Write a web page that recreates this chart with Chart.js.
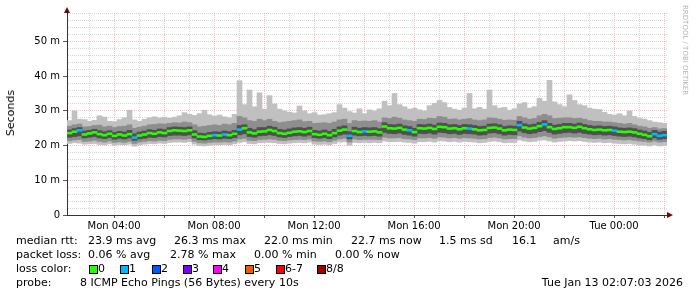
<!DOCTYPE html>
<html>
<head>
<meta charset="utf-8">
<script src="https://cdn.jsdelivr.net/npm/chart.js@4.4.0/dist/chart.umd.min.js"></script>
<style>
  html, body { margin: 0; padding: 0; background: #fff; }
  #wrap { position: relative; width: 697px; height: 297px; overflow: hidden;
          font-family: "DejaVu Sans", sans-serif; font-size: 11px; color: #000; }
  #wrap canvas { position: absolute; left: 0; top: 0; }
  .t { position: absolute; white-space: pre; line-height: 14px; }
  .box { position: absolute; width: 7px; height: 7px; border: 1px solid #000; }
  #ylabel { position: absolute; left: 4px; top: 90px; font-size: 11px; line-height: 14px;
            writing-mode: vertical-rl; transform: rotate(180deg); white-space: pre; }
  #mark { position: absolute; left: 681px; top: 5px; font-size: 7px; color: #b4b4b4;
          writing-mode: vertical-rl; white-space: pre; }
</style>
</head>
<body>
<div id="wrap">
  <canvas id="chart" width="697" height="297"></canvas>
  <div id="ylabel">Seconds</div>
  <div id="mark">RRDTOOL / TOBI OETIKER</div>

  <div class="t" style="left:16px;top:234px">median rtt:</div>
  <div class="t" style="left:88px;top:234px">23.9 ms avg</div>
  <div class="t" style="left:174px;top:234px">26.3 ms max</div>
  <div class="t" style="left:264px;top:234px">22.0 ms min</div>
  <div class="t" style="left:351px;top:234px">22.7 ms now</div>
  <div class="t" style="left:439px;top:234px">1.5 ms sd</div>
  <div class="t" style="left:512px;top:234px">16.1</div>
  <div class="t" style="left:553px;top:234px">am/s</div>

  <div class="t" style="left:16px;top:248px">packet loss:</div>
  <div class="t" style="left:88px;top:248px">0.06 % avg</div>
  <div class="t" style="left:170px;top:248px">2.78 % max</div>
  <div class="t" style="left:254px;top:248px">0.00 % min</div>
  <div class="t" style="left:335px;top:248px">0.00 % now</div>

  <div class="t" style="left:16px;top:262px">loss color:</div>
  <div id="losslegend"></div>

  <div class="t" style="left:16px;top:276px">probe:</div>
  <div class="t" style="left:80px;top:276px">8 ICMP Echo Pings (56 Bytes) every 10s</div>
  <div class="t" style="right:14px;top:276px">Tue Jan 13 02:07:03 2026</div>
</div>

<script>
// time bins: 12 minutes each, starting Mon 02:07 (minutes since Mon 00:00)
const startMinute = 127;
const stepMinutes = 12;

// median rtt per bin (ms)
const medianRtt = [
  23.6, 24.0, 24.4, 23.2, 23.5, 23.8, 23.3, 23.0, 23.4, 22.8, 23.2, 22.9, 23.3, 22.3, 22.9, 23.2, 23.6, 23.4, 23.8, 23.6,
  24.2, 24.4, 24.3, 24.2, 24.4, 23.2, 22.6, 22.5, 22.8, 23.0, 22.9, 23.2, 23.0, 23.4, 24.6, 25.0, 23.8, 23.5, 24.0, 24.1,
  24.5, 24.2, 23.6, 23.4, 23.7, 24.0, 24.1, 23.9, 24.2, 23.3, 23.1, 23.4, 23.0, 23.6, 24.3, 24.6, 22.8, 24.2, 23.9, 24.1,
  24.0, 24.1, 23.8, 25.5, 25.0, 24.9, 25.1, 24.6, 24.4, 23.9, 25.0, 24.9, 25.1, 24.8, 25.4, 25.3, 24.9, 25.0, 24.7, 25.0,
  24.9, 24.7, 24.4, 24.5, 25.1, 25.2, 24.9, 24.4, 24.6, 24.5, 25.9, 25.2, 24.9, 25.1, 25.6, 26.1, 25.3, 24.8, 25.0, 25.3,
  25.3, 25.1, 25.4, 25.0, 24.7, 24.5, 24.6, 24.4, 24.5, 24.3, 24.0, 23.9, 24.0, 23.8, 23.4, 23.1, 22.7, 23.3, 22.8, 23.0
];

// lost pings (of 8) per bin
const lossCount = [
  0, 0, 1, 0, 0, 0, 0, 0, 0, 0, 0, 0, 0, 1, 0, 0, 0, 0, 0, 0,
  0, 0, 0, 0, 0, 0, 0, 0, 0, 1, 0, 1, 0, 0, 1, 0, 0, 0, 0, 0,
  0, 0, 0, 0, 0, 0, 0, 0, 0, 0, 0, 0, 0, 0, 0, 0, 1, 0, 0, 1,
  0, 0, 0, 0, 0, 0, 0, 0, 1, 0, 0, 0, 0, 0, 0, 0, 0, 0, 0, 0,
  1, 0, 0, 0, 0, 0, 0, 0, 0, 0, 1, 0, 0, 0, 0, 1, 0, 0, 0, 0,
  0, 0, 0, 0, 0, 0, 0, 0, 0, 1, 0, 0, 0, 0, 0, 0, 0, 1, 1, 1
];

// smoke: sorted ping values per bin (ms)
const rttMax = [
  27.2, 30.0, 27.6, 27.5, 27.0, 27.3, 28.6, 28.2, 27.0, 26.9, 27.5, 28.0, 30.2, 27.4, 27.0, 27.6, 28.0, 28.3, 28.0, 28.2,
  27.9, 28.2, 28.6, 29.5, 29.0, 28.7, 29.2, 30.2, 28.9, 28.5, 28.8, 28.3, 28.0, 29.0, 38.7, 31.8, 36.0, 31.2, 35.2, 30.5,
  34.4, 32.0, 30.5, 30.0, 29.6, 29.4, 31.4, 30.0, 29.2, 29.5, 28.8, 28.9, 29.2, 29.5, 31.8, 30.8, 29.8, 29.4, 30.6, 29.2,
  30.3, 30.0, 30.6, 32.8, 31.5, 35.0, 31.8, 31.2, 30.5, 30.8, 30.3, 30.0, 31.5, 32.2, 33.0, 32.4, 31.0, 30.5, 30.2, 30.8,
  35.0, 30.6, 31.0, 30.5, 36.0, 31.5, 30.8, 31.0, 30.2, 30.6, 32.0, 32.4, 30.8, 31.2, 33.6, 32.8, 38.8, 32.6, 31.8, 31.2,
  34.6, 33.0, 31.8, 31.5, 30.8, 30.5, 30.4, 29.6, 29.0, 28.8, 29.2, 28.6, 30.0, 28.4, 27.8, 27.6, 27.2, 26.8, 26.6, 26.4
];
const rttP7 = [
  25.6, 26.0, 26.2, 25.4, 25.5, 25.8, 25.9, 25.4, 25.6, 25.2, 25.5, 25.6, 26.0, 25.0, 25.3, 25.6, 26.0, 26.1, 26.3, 26.2,
  26.4, 26.6, 26.5, 26.8, 26.6, 26.0, 25.4, 25.6, 25.8, 26.0, 25.8, 26.2, 26.0, 26.4, 28.4, 28.0, 27.2, 27.0, 27.6, 27.2,
  27.6, 27.0, 26.6, 26.8, 27.0, 27.2, 27.4, 26.9, 27.0, 26.4, 26.5, 26.6, 26.4, 26.8, 27.4, 27.6, 26.4, 27.2, 27.0, 27.1,
  27.0, 27.2, 26.8, 28.0, 27.8, 28.2, 27.9, 27.4, 27.2, 27.0, 27.6, 27.5, 27.9, 27.8, 28.4, 28.2, 27.6, 27.7, 27.4, 27.6,
  27.8, 27.4, 27.2, 27.4, 28.0, 27.9, 27.6, 27.3, 27.4, 27.3, 28.4, 28.0, 27.6, 27.8, 28.6, 29.0, 28.6, 27.8, 27.9, 28.0,
  28.0, 27.8, 27.9, 27.6, 27.2, 27.0, 27.0, 26.8, 26.8, 26.6, 26.4, 26.2, 26.4, 26.0, 25.6, 25.4, 25.0, 25.2, 24.8, 24.9
];
const rttP6 = [
  24.5, 24.9, 25.2, 24.2, 24.4, 24.7, 24.3, 24.0, 24.3, 23.8, 24.1, 23.9, 24.4, 23.4, 23.9, 24.2, 24.6, 24.4, 24.8, 24.6,
  25.2, 25.4, 25.3, 25.2, 25.4, 24.3, 23.6, 23.5, 23.8, 24.0, 23.9, 24.2, 24.0, 24.4, 25.8, 26.0, 25.0, 24.6, 25.2, 25.2,
  25.6, 25.3, 24.7, 24.5, 24.8, 25.1, 25.2, 25.0, 25.3, 24.4, 24.2, 24.5, 24.1, 24.7, 25.4, 25.7, 24.0, 25.3, 25.0, 25.2,
  25.1, 25.2, 24.9, 26.6, 26.1, 26.0, 26.2, 25.7, 25.5, 25.0, 26.1, 26.0, 26.2, 25.9, 26.5, 26.4, 26.0, 26.1, 25.8, 26.1,
  26.0, 25.8, 25.5, 25.6, 26.2, 26.3, 26.0, 25.5, 25.7, 25.6, 27.0, 26.3, 26.0, 26.2, 26.7, 27.2, 26.4, 25.9, 26.1, 26.4,
  26.4, 26.2, 26.5, 26.1, 25.8, 25.6, 25.7, 25.5, 25.6, 25.4, 25.1, 25.0, 25.1, 24.9, 24.5, 24.2, 23.8, 24.4, 23.9, 24.1
];
const rttP3 = [
  22.4, 22.6, 22.8, 22.2, 22.4, 22.6, 22.2, 22.0, 22.3, 21.8, 22.1, 21.9, 22.2, 21.5, 21.9, 22.1, 22.4, 22.3, 22.6, 22.5,
  22.9, 23.0, 23.0, 22.9, 23.1, 22.2, 21.7, 21.6, 21.8, 22.0, 21.9, 22.1, 22.0, 22.3, 23.1, 23.4, 22.6, 22.4, 22.8, 22.9,
  23.1, 22.9, 22.5, 22.3, 22.6, 22.8, 22.9, 22.7, 23.0, 22.3, 22.1, 22.3, 22.0, 22.5, 23.0, 23.3, 21.9, 23.0, 22.8, 22.9,
  22.8, 22.9, 22.7, 23.8, 23.5, 23.4, 23.6, 23.2, 23.0, 22.7, 23.5, 23.4, 23.6, 23.3, 23.8, 23.7, 23.4, 23.5, 23.2, 23.5,
  23.4, 23.3, 23.0, 23.1, 23.6, 23.7, 23.4, 23.0, 23.2, 23.1, 24.2, 23.7, 23.4, 23.6, 24.0, 24.3, 23.8, 23.3, 23.5, 23.7,
  23.8, 23.6, 23.8, 23.5, 23.3, 23.1, 23.2, 23.0, 23.1, 22.9, 22.7, 22.6, 22.7, 22.5, 22.2, 22.0, 21.7, 22.2, 21.8, 22.0
];
const rttP2 = [
  21.4, 21.6, 21.7, 21.2, 21.3, 21.5, 21.2, 21.0, 21.3, 20.9, 21.1, 20.9, 21.2, 20.6, 21.0, 21.2, 21.4, 21.3, 21.5, 21.4,
  21.8, 21.9, 21.9, 21.8, 22.0, 21.2, 20.8, 20.7, 20.9, 21.0, 21.0, 21.1, 21.0, 21.3, 21.9, 22.1, 21.5, 21.4, 21.7, 21.8,
  21.9, 21.8, 21.5, 21.4, 21.6, 21.7, 21.8, 21.7, 21.9, 21.3, 21.2, 21.3, 21.1, 21.5, 21.9, 22.1, 21.0, 21.9, 21.7, 21.8,
  21.8, 21.8, 21.7, 22.4, 22.2, 22.2, 22.3, 22.0, 21.9, 21.7, 22.2, 22.2, 22.3, 22.1, 22.5, 22.4, 22.2, 22.3, 22.1, 22.3,
  22.2, 22.1, 21.9, 22.0, 22.3, 22.4, 22.2, 21.9, 22.0, 22.0, 22.8, 22.4, 22.2, 22.3, 22.6, 22.8, 22.5, 22.1, 22.3, 22.4,
  22.5, 22.4, 22.5, 22.3, 22.1, 22.0, 22.1, 21.9, 22.0, 21.8, 21.7, 21.6, 21.7, 21.5, 21.3, 21.2, 21.0, 21.3, 21.0, 21.1
];
const rttMin = [
  20.6, 20.8, 20.7, 20.4, 20.5, 20.6, 20.3, 20.2, 20.5, 20.1, 20.3, 20.2, 20.4, 19.8, 20.2, 20.4, 20.6, 20.5, 20.7, 20.6,
  20.9, 21.0, 21.0, 20.9, 21.1, 20.4, 20.0, 19.9, 20.1, 20.2, 20.2, 20.3, 20.2, 20.5, 20.9, 21.1, 20.6, 20.5, 20.8, 20.9,
  20.9, 20.8, 20.6, 20.5, 20.7, 20.8, 20.9, 20.8, 21.0, 20.4, 20.3, 20.4, 20.2, 20.6, 21.0, 21.1, 20.1, 20.9, 20.8, 20.9,
  20.8, 20.9, 20.8, 21.3, 21.1, 21.1, 21.2, 21.0, 20.9, 20.7, 21.1, 21.1, 21.2, 21.0, 21.4, 21.3, 21.1, 21.2, 21.0, 21.2,
  21.1, 21.0, 20.8, 20.9, 21.2, 21.3, 21.1, 20.8, 20.9, 20.9, 21.6, 21.3, 21.1, 21.2, 21.5, 21.6, 21.3, 21.0, 21.2, 21.3,
  21.4, 21.3, 21.4, 21.2, 21.0, 20.9, 21.0, 20.8, 20.9, 20.7, 20.6, 20.5, 20.6, 20.4, 20.2, 20.1, 19.9, 20.2, 19.9, 20.0
];

// axis ticks
const xTickMinutes = [240, 480, 720, 960, 1200, 1440];
const xTickLabels = ['Mon 04:00', 'Mon 08:00', 'Mon 12:00', 'Mon 16:00', 'Mon 20:00', 'Tue 00:00'];
const yTickValues = [0, 10, 20, 30, 40, 50];
const yTickLabels = ['0', '10 m', '20 m', '30 m', '40 m', '50 m'];

// loss legend
const lossLabels = ['0', '1', '2', '3', '4', '5', '6-7', '8/8'];
const lossLegendColors = ['#26ff00', '#00b8ff', '#0059ff', '#7e00ff', '#ff00ff', '#ff5500', '#ff0000', '#a10000'];
const lossLegendX = [89, 120, 152, 183, 213, 245, 276, 317];

function lossColor(n) {
  if (n <= 5) return lossLegendColors[n];
  if (n < 8) return lossLegendColors[6];
  return lossLegendColors[7];
}

// legend boxes
const ll = document.getElementById('losslegend');
lossLabels.forEach((lab, i) => {
  const b = document.createElement('div');
  b.className = 'box';
  b.style.left = lossLegendX[i] + 'px';
  b.style.top = '265px';
  b.style.background = lossLegendColors[i];
  ll.appendChild(b);
  const t = document.createElement('div');
  t.className = 't';
  t.style.left = (lossLegendX[i] + 9) + 'px';
  t.style.top = '262px';
  t.textContent = lab;
  ll.appendChild(t);
});

const binX = (i) => startMinute + stepMinutes / 2 + i * stepMinutes;
const band = (lo, hi) => lo.map((v, i) => ({ x: binX(i), y: [v, hi[i]] }));

const smoke = (lo, hi, color, order) => ({
  type: 'bar',
  data: band(lo, hi),
  backgroundColor: color,
  borderWidth: 0,
  grouped: false,
  barPercentage: 1,
  categoryPercentage: 1,
  order: order
});

const GRID = 'rgba(150,150,150,0.38)';
const MGRID = 'rgba(222,60,60,0.32)';

const arrows = {
  id: 'arrows',
  afterDraw(chart) {
    const { ctx, chartArea: a } = chart;
    ctx.save();
    ctx.fillStyle = '#7f0000';
    ctx.beginPath();
    ctx.moveTo(a.left, a.top - 6);
    ctx.lineTo(a.left - 3, a.top);
    ctx.lineTo(a.left + 3, a.top);
    ctx.fill();
    ctx.beginPath();
    ctx.moveTo(a.right + 6, a.bottom);
    ctx.lineTo(a.right, a.bottom - 3);
    ctx.lineTo(a.right, a.bottom + 3);
    ctx.fill();
    ctx.restore();
  }
};

Chart.defaults.font.family = '"DejaVu Sans", sans-serif';
Chart.defaults.font.size = 10;
Chart.defaults.color = '#000';

new Chart(document.getElementById('chart'), {
  type: 'bar',
  data: {
    datasets: [
      {
        type: 'bar',
        data: medianRtt.map((m, i) => ({ x: binX(i), y: [m - 0.28, m + 0.28] })),
        backgroundColor: (c) => lossColor(lossCount[c.dataIndex] || 0),
        borderWidth: 0,
        grouped: false,
        barPercentage: 1,
        categoryPercentage: 1,
        order: 0
      },
      smoke(rttP3, rttP6, '#505050', 1),
      smoke(rttP2, rttP7, '#8e8e8e', 2),
      smoke(rttMin, rttMax, '#c0c0c0', 3)
    ]
  },
  options: {
    responsive: false,
    animation: false,
    devicePixelRatio: 1,
    layout: { padding: { top: 13, right: 30, left: 0, bottom: 0 } },
    plugins: { legend: { display: false }, tooltip: { enabled: false } },
    scales: {
      x: {
        type: 'linear',
        min: startMinute,
        max: startMinute + 1440,
        offset: false,
        z: 1,
        afterFit: (s) => { s.height = 82; },
        afterBuildTicks: (s) => {
          const t = [];
          for (let m = 180; m < startMinute + 1440; m += 60) t.push({ value: m });
          s.ticks = t;
        },
        ticks: {
          autoSkip: false,
          maxRotation: 0,
          padding: 2,
          callback: (v) => {
            const k = xTickMinutes.indexOf(v);
            return k >= 0 ? xTickLabels[k] : '';
          }
        },
        grid: {
          offset: false,
          color: (c) => (c.tick && c.tick.value % 120 === 0 ? MGRID : GRID),
          tickLength: 3,
          tickColor: (c) => (c.tick && c.tick.value % 120 === 0 ? '#555' : 'rgba(0,0,0,0)')
        },
        border: { color: '#333', dash: [1, 1] }
      },
      y: {
        min: 0,
        max: 58.2,
        z: 1,
        afterFit: (s) => { s.width = 67; },
        afterBuildTicks: (s) => {
          const t = [];
          for (let v = 0; v <= 58; v += 2) t.push({ value: v });
          s.ticks = t;
        },
        ticks: {
          autoSkip: false,
          padding: 3,
          callback: (v) => {
            const k = yTickValues.indexOf(v);
            return k >= 0 ? yTickLabels[k] : '';
          }
        },
        grid: {
          color: (c) => (c.tick && c.tick.value % 10 === 0 && c.tick.value > 0 ? MGRID : GRID),
          tickLength: 4,
          tickColor: (c) => (c.tick && c.tick.value % 10 === 0 ? '#555' : 'rgba(0,0,0,0)')
        },
        border: { color: '#333', dash: [1, 1] }
      }
    }
  },
  plugins: [arrows]
});
</script>
</body>
</html>
